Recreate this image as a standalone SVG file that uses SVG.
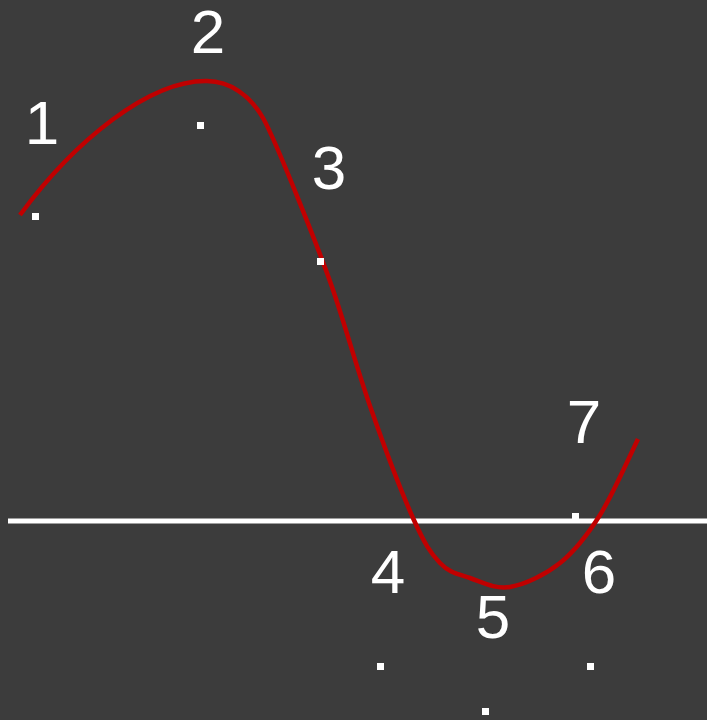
<svg xmlns="http://www.w3.org/2000/svg" width="707" height="720" viewBox="0 0 707 720">
<style>
.lbl{font-family:"Liberation Sans",Arial,sans-serif;font-size:62px;fill:#ffffff;text-anchor:middle}
.pt{fill:#ffffff}
</style>
<rect x="0" y="0" width="707" height="720" fill="#3c3c3c"/>
<g id="connectors">
<line x1="8" y1="521" x2="707" y2="521" stroke="#ffffff" stroke-width="5"/>
<path d="M20,215 C75,140 150,80 207,81 C230,81.4 250,95 263,118 C276,141 319.2,250.2 332,287 C344.8,323.8 356.5,367.5 370,406 C383.5,444.5 401.3,491.8 413,518 C424.7,544.2 430.5,553 440,563 C449.5,573 458.3,574 470,578 C481.7,582 495,589.5 510,587 C525,584.5 545,575 560,563 C575,551 587,535.7 600,515 C613,494.3 631.7,451.7 638,439" fill="none" stroke="#c00000" stroke-width="4.5"/>
</g>
<g id="node1"><rect class="pt" x="32" y="213" width="7" height="7"/><text class="lbl" x="42" y="144">1</text></g>
<g id="node2"><rect class="pt" x="197" y="122" width="7" height="7"/><text class="lbl" x="208" y="53">2</text></g>
<g id="node3"><rect class="pt" x="317" y="258" width="7" height="7"/><text class="lbl" x="329" y="189">3</text></g>
<g id="node4"><rect class="pt" x="377" y="663" width="7" height="7"/><text class="lbl" x="388" y="593">4</text></g>
<g id="node5"><rect class="pt" x="482" y="708" width="7" height="7"/><text class="lbl" x="493" y="638">5</text></g>
<g id="node6"><rect class="pt" x="587" y="663" width="7" height="7"/><text class="lbl" x="599" y="593">6</text></g>
<g id="node7"><rect class="pt" x="572" y="513" width="7" height="7"/><text class="lbl" x="584" y="443">7</text></g>
</svg>
